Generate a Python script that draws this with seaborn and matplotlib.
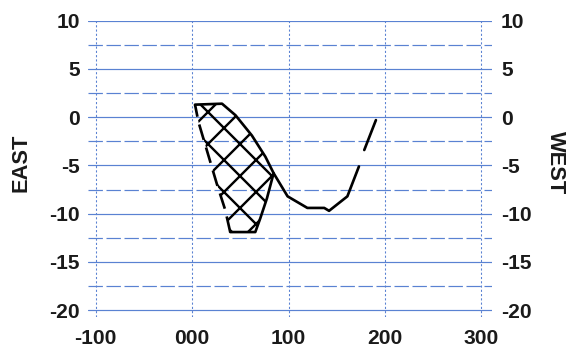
import matplotlib
matplotlib.use("Agg")
import matplotlib.pyplot as plt
from matplotlib.ticker import MultipleLocator
import seaborn as sns

# data (x: -100..300, y: east/west offset)
curve_x = [3, 31, 45, 62, 76, 84.5, 99, 119.5, 137, 142, 161, 173]
curve_y = [1.3, 1.4, 0.2, -1.9, -4.1, -5.8, -8.2, -9.4, -9.4, -9.7, -8.2, -5.1]
tail_x = [178.5, 190.6]
tail_y = [-3.4, -0.3]

region_x = [3, 31, 45, 62, 76, 84.5, 77.6, 70.6, 65.5, 39.5, 34.3, 25.6, 15.2, 6.6]
region_y = [1.3, 1.4, 0.2, -1.9, -4.1, -5.8, -8.4, -10.5, -11.9, -11.9, -9.6, -6.9, -3.4, -0.5]

left_x = [39.5, 34.3, 25.6, 15.2, 6.6, 3]
left_y = [-11.9, -9.6, -6.9, -3.4, -0.5, 1.3]
bottom_x = [84.5, 77.6, 70.6, 65.5, 39.5]
bottom_y = [-5.8, -8.4, -10.5, -11.9, -11.9]

x_ticks = [-100, 0, 100, 200, 300]
x_labels = ["-100", "000", "100", "200", "300"]
y_ticks = [10, 5, 0, -5, -10, -15, -20]

sns.set_theme(style="white")
plt.rcParams['font.family'] = ['Liberation Sans', 'DejaVu Sans']
plt.rcParams['hatch.linewidth'] = 0.9
plt.rcParams['axes.unicode_minus'] = False

DPI = 192
fig = plt.figure(figsize=(575 / DPI, 350 / DPI), dpi=DPI)
ax = fig.add_axes([0.153, 0.0943, 0.7027, 0.8466])

grid_blue = "#5a82d2"
text_col = "#1a1a1a"

# hatched region
ax.fill(region_x, region_y, facecolor="none", edgecolor="black",
        linewidth=0, hatch="xx", zorder=3)
sns.lineplot(x=left_x, y=left_y, sort=False, estimator=None, ax=ax,
             color="black", linewidth=1.0, linestyle=(0, (6, 3)), zorder=4)
sns.lineplot(x=bottom_x, y=bottom_y, sort=False, estimator=None, ax=ax,
             color="black", linewidth=1.0, zorder=4)

# main curve
sns.lineplot(x=curve_x, y=curve_y, sort=False, estimator=None, ax=ax,
             color="black", linewidth=1.0, zorder=4)
sns.lineplot(x=tail_x, y=tail_y, sort=False, estimator=None, ax=ax,
             color="black", linewidth=1.0, zorder=4)

ax.set_xlim(-108, 311)
ax.set_ylim(-20.7, 10)
ax.set_xticks(x_ticks, x_labels)
ax.set_yticks(y_ticks)
ax.yaxis.set_minor_locator(MultipleLocator(2.5))

ax.grid(axis="x", which="major", color=grid_blue, linewidth=0.4,
        linestyle=(0, (2, 2)))
ax.grid(axis="y", which="major", color=grid_blue, linewidth=0.45)
ax.grid(axis="y", which="minor", color=grid_blue, linewidth=0.45,
        linestyle=(0, (12, 3)))
ax.set_axisbelow(True)
for s in ax.spines.values():
    s.set_visible(False)

ax.tick_params(axis="both", which="both", length=0, labelsize=7.9,
               labelcolor=text_col)
ax.tick_params(axis="y", pad=3)
ax.tick_params(axis="x", pad=4.5)
for lab in ax.get_xticklabels() + ax.get_yticklabels():
    lab.set_fontweight("bold")

ax.set_xlabel("")
ax.set_ylabel("EAST", fontsize=8.2, fontweight="bold", color=text_col)
ax.yaxis.set_label_coords(-0.139, 0.52)

ax2 = ax.twinx()
ax2.set_ylim(ax.get_ylim())
ax2.set_yticks(y_ticks)
ax2.grid(False)
for s in ax2.spines.values():
    s.set_visible(False)
ax2.tick_params(axis="y", length=0, labelsize=7.9, labelcolor=text_col, pad=3.4)
for lab in ax2.get_yticklabels():
    lab.set_fontweight("bold")
ax2.set_ylabel("WEST", fontsize=8.2, fontweight="bold", color=text_col,
               rotation=270, va="center")
ax2.yaxis.set_label_coords(1.158, 0.52)

fig.savefig("out.png", dpi=DPI, facecolor="white")
